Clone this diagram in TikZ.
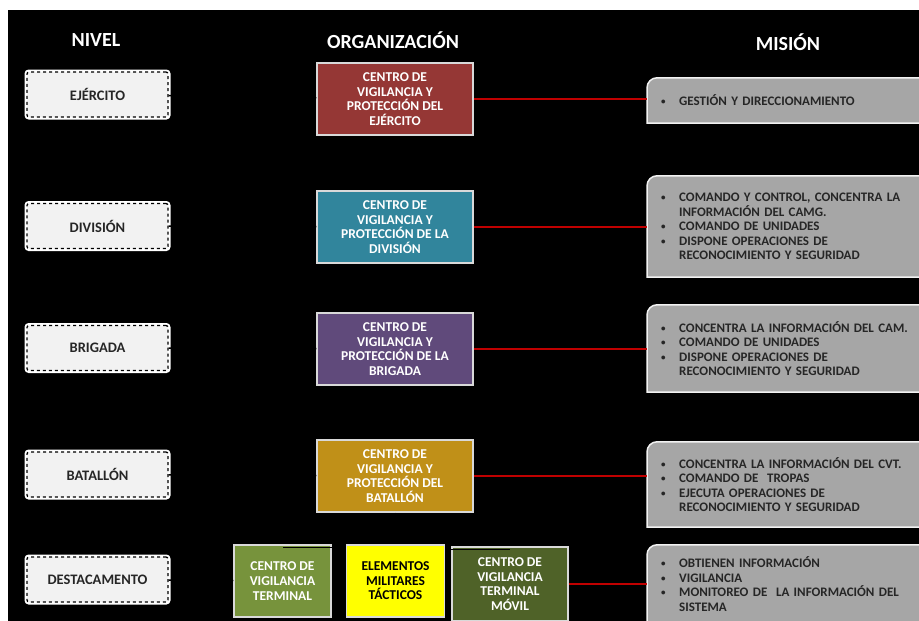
\documentclass[tikz,border=0pt]{standalone}
\usepackage{fontspec}
\setmainfont{Carlito}
\usetikzlibrary{positioning, backgrounds}
\definecolor{ejercitored}{RGB}{149, 55, 53}
\definecolor{divisionteal}{RGB}{49, 133, 156}
\definecolor{brigadapurple}{RGB}{96, 74, 123}
\definecolor{batallongold}{RGB}{192, 144, 24}
\definecolor{terminalgreen}{RGB}{119, 147, 60}
\definecolor{movilgreen}{RGB}{79, 98, 40}
\definecolor{tacticoyellow}{RGB}{255, 255, 0}
\definecolor{nivelgray}{RGB}{242, 242, 242}
\definecolor{misiongray}{RGB}{166, 166, 166}
\definecolor{bordegray}{RGB}{217, 217, 217}
\definecolor{textdark}{RGB}{38, 38, 38}
\definecolor{linered}{RGB}{192, 0, 0}
\newcommand{\vineta}{\makebox[18pt][l]{\raisebox{1pt}{\fontsize{9}{9}\selectfont\textbullet}}}
\newcommand{\sangria}{\hspace*{18pt}}

\begin{document}
\begin{tikzpicture}[
    x=1pt, y=-1pt,
    titulo/.style={text=white, font=\bfseries\fontsize{20}{24}\selectfont},
    nivel/.style={rectangle, rounded corners=2pt, draw=black, dashed, line width=1.3pt, fill=nivelgray, preaction={draw=white, solid, line width=5pt}, minimum width=141pt, minimum height=45pt, text=textdark, font=\bfseries\fontsize{14.5}{16}\selectfont},
    org/.style={rectangle, draw=bordegray, line width=1.5pt, minimum width=156pt, minimum height=72pt, align=center, text=white, font=\bfseries\fontsize{13.5}{14.6}\selectfont},
    mision/.style={rectangle, anchor=west, minimum width=300pt, inner xsep=14pt, text width=272pt, align=left, text=textdark, font=\bfseries\fontsize{13}{14.4}\selectfont},
    misionbox/.style={fill=misiongray, draw=nivelgray, line width=1.5pt},
    redline/.style={draw=linered, line width=1.5pt},
    tree/.style={draw=black, line width=1.5pt}
]
\useasboundingbox (0,0) rectangle (919,621);
\begin{scope}[on background layer]
\fill[white] (0,0) rectangle (919,621);
\fill[black] (8,10) rectangle (919,621);
\end{scope}

\node[titulo] (tnivel) at (96,40) {NIVEL};
\node[titulo] (torg) at (393,40) {ORGANIZACIÓN};
\node[titulo] (tmision) at (788,42) {MISIÓN};

\node[nivel] (n1) at (97.5,94.5) {EJÉRCITO};
\node[nivel] (n2) at (97.5,226) {DIVISIÓN};
\node[nivel] (n3) at (97.5,348) {BRIGADA};
\node[nivel] (n4) at (97.5,474.5) {BATALLÓN};
\node[nivel] (n5) at (97.5,579.5) {DESTACAMENTO};

\node[org, fill=ejercitored] (o1) at (395,99) {CENTRO DE\\ VIGILANCIA Y\\ PROTECCIÓN DEL\\ EJÉRCITO};
\node[org, fill=divisionteal] (o2) at (395,227) {CENTRO DE\\ VIGILANCIA Y\\ PROTECCIÓN DE LA\\ DIVISIÓN};
\node[org, fill=brigadapurple] (o3) at (395,349) {CENTRO DE\\ VIGILANCIA Y\\ PROTECCIÓN DE LA\\ BRIGADA};
\node[org, fill=batallongold] (o4) at (395,476) {CENTRO DE\\ VIGILANCIA Y\\ PROTECCIÓN DEL\\ BATALLÓN};

\node[org, fill=terminalgreen, minimum width=97pt] (cvt) at (282.5,581) {CENTRO DE\\ VIGILANCIA\\ TERMINAL};
\node[org, fill=movilgreen, minimum width=116pt, minimum height=74pt] (movil) at (510,584) {CENTRO DE\\ VIGILANCIA\\ TERMINAL\\ MÓVIL};
\draw[tree] (o4.south) |- ([yshift=-3pt]cvt.north);
\draw[tree] (o4.south) |- ([yshift=-3pt]movil.north);
\node[org, fill=tacticoyellow, text=black, minimum width=98pt, right=14pt of cvt] (emt) {ELEMENTOS\\ MILITARES\\ TÁCTICOS};

\node[mision, minimum height=45pt] (m1) at (647,100.5) {\vineta GESTIÓN Y DIRECCIONAMIENTO};
\node[mision, minimum height=101pt] (m2) at (647,226.5) {\vineta COMANDO Y CONTROL, CONCENTRA LA\\ \sangria INFORMACIÓN DEL CAMG.\\ \vineta COMANDO DE UNIDADES\\ \vineta DISPONE OPERACIONES DE\\ \sangria RECONOCIMIENTO Y SEGURIDAD};
\node[mision, minimum height=87pt] (m3) at (647,348.5) {\vineta CONCENTRA LA INFORMACIÓN DEL CAM.\\ \vineta COMANDO DE UNIDADES\\ \vineta DISPONE OPERACIONES DE\\ \sangria RECONOCIMIENTO Y SEGURIDAD};
\node[mision, minimum height=85pt] (m4) at (647,484.5) {\vineta CONCENTRA LA INFORMACIÓN DEL CVT.\\ \vineta COMANDO DE~~TROPAS\\ \vineta EJECUTA OPERACIONES DE\\ \sangria RECONOCIMIENTO Y SEGURIDAD};
\node[mision, minimum height=78pt] (m5) at (647,584) {\vineta OBTIENEN INFORMACIÓN\\ \vineta VIGILANCIA\\ \vineta MONITOREO DE~~LA INFORMACIÓN DEL\\ \sangria SISTEMA};
\begin{scope}[on background layer]
\foreach \m in {m1, m2, m3, m4, m5}
  \draw[misionbox] (\m.south east) -- (\m.south west) [rounded corners=10pt] -- (\m.north west) -- (\m.north east) [sharp corners] -- cycle;
\end{scope}

\draw[tree] (n1) -- (o1);
\draw[tree] (n2) -- (o2);
\draw[tree] (n3) -- (o3);
\draw[tree] (n4) -- (o4);
\draw[tree] (n5) -- (cvt);

\draw[redline] (o1.east) -- (o1.east -| m1.west);
\draw[redline] (o2.east) -- (o2.east -| m2.west);
\draw[redline] (o3.east) -- (o3.east -| m3.west);
\draw[redline] (o4.east) -- (o4.east -| m4.west);
\draw[redline] (movil.east) -- (movil.east -| m5.west);
\end{tikzpicture}
\end{document}
